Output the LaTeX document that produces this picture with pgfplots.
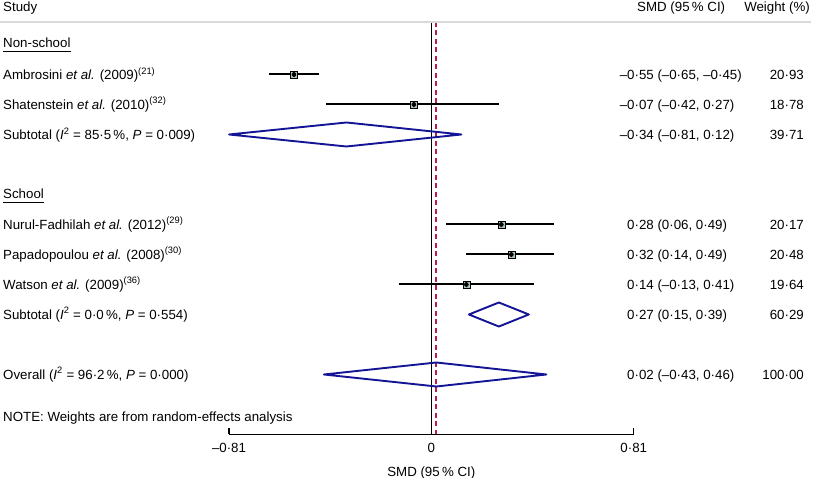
\documentclass[border=0pt]{standalone}
\usepackage{pgfplots}
\pgfplotsset{compat=1.18}
\usepackage{pgfplotstable}
\usepackage{fontspec}
\setmainfont{Liberation Sans}

\definecolor{boxgray}{RGB}{170,192,186}
\definecolor{refred}{RGB}{180,30,80}
\definecolor{dmdblue}{RGB}{20,20,150}

% y = minus the row position (pt from the top of the picture)
\pgfplotstableread{
y      est    lo     hi
-74.5  -0.55  -0.65  -0.45
-104.5 -0.07  -0.42   0.27
-224.5  0.28   0.06   0.49
-254.5  0.32   0.14   0.49
-284.5  0.14  -0.13   0.41
}\studies

\begin{document}
\begin{tikzpicture}[font=\fontsize{13.3}{16}\selectfont]
\begin{axis}[
    scale only axis,
    width=404.7pt, height=412.3pt,
    xmin=-0.81, xmax=0.81,
    ymin=-434.3, ymax=-22,
    axis x line=bottom, axis y line=none,
    axis line style={-, line width=1.4pt},
    clip=false,
    xtick={-0.81,0,0.81},
    xticklabels={–0·81,0,0·81},
    tick align=inside, major tick length=6pt,
    tick style={black, line width=1.4pt},
    xticklabel style={anchor=base, inner sep=0pt, yshift=-17.8pt},
]
    % reference lines
    \addplot[black, line width=1.4pt] coordinates {(0,-22) (0,-434.3)};
    \addplot[refred, line width=1.4pt, dash pattern=on 5pt off 3.5pt] coordinates {(0.018,-22) (0.018,-434.3)};

    % weight boxes
    \addplot[only marks, mark=square*, mark size=3.6pt, draw=none, fill=boxgray,
        mark options={draw=none, fill=boxgray}] table[x=est, y=y] \studies;
    % confidence intervals
    \addplot[only marks, mark=none,
        error bars/.cd, x dir=both, x explicit, error mark=none,
        error bar style={draw=black, line width=2pt}]
        table[x=est, y=y, x error minus expr=\thisrow{est}-\thisrow{lo}, x error plus expr=\thisrow{hi}-\thisrow{est}] \studies;
    % point estimates
    \addplot[only marks, mark=diamond*, mark size=2.4pt, black] table[x=est, y=y] \studies;

    % pooled diamonds
    \addplot[dmdblue, line width=1.9pt, line join=round] coordinates {(-0.81,-134.5) (-0.34,-122.5) (0.12,-134.5) (-0.34,-146.5)} -- cycle;
    \addplot[dmdblue, line width=1.9pt, line join=round] coordinates {(0.15,-314.5) (0.27,-302.5) (0.39,-314.5) (0.27,-326.5)} -- cycle;
    \addplot[dmdblue, line width=1.9pt, line join=round] coordinates {(-0.43,-374.5) (0.02,-362.5) (0.46,-374.5) (0.02,-386.5)} -- cycle;

    \coordinate (O) at (axis cs:-1.7268,0);
\end{axis}

\begin{scope}[shift={(O)}, x=1pt, y=-1pt, every node/.style={inner sep=0pt}]
    \draw[gray!30, line width=1.6pt] (0,22) -- (811,22);
    \node[anchor=base west] at (3,11.5) {Study};
    \node[anchor=base west] at (637,11.5) {SMD (95\,\% CI)};
    \node[anchor=base east] at (810,11.5) {Weight (\%)};

    \node[anchor=base west] (ns) at (3,48) {Non-school};
    \draw[line width=1pt] ([yshift=-3.6pt]ns.base west) -- ([yshift=-3.6pt]ns.base east);
    \node[anchor=base west] at (3,79.5) {Ambrosini \textit{et al.} (2009)\textsuperscript{(21)}};
    \node[anchor=base west] at (3,109.2) {Shatenstein \textit{et al.} (2010)\textsuperscript{(32)}};
    \node[anchor=base west] at (3,139.5) {Subtotal (\textit{I}\textsuperscript{2} = 85·5\,\%, \textit{P} = 0·009)};

    \node[anchor=base west] (sc) at (3,198.8) {School};
    \draw[line width=1pt] ([yshift=-3.6pt]sc.base west) -- ([yshift=-3.6pt]sc.base east);
    \node[anchor=base west] at (3,229.2) {Nurul-Fadhilah \textit{et al.} (2012)\textsuperscript{(29)}};
    \node[anchor=base west] at (3,259.2) {Papadopoulou \textit{et al.} (2008)\textsuperscript{(30)}};
    \node[anchor=base west] at (3,289.2) {Watson \textit{et al.} (2009)\textsuperscript{(36)}};
    \node[anchor=base west] at (3,319.2) {Subtotal (\textit{I}\textsuperscript{2} = 0·0\,\%, \textit{P} = 0·554)};
    \node[anchor=base west] at (3,379.2) {Overall (\textit{I}\textsuperscript{2} = 96·2\,\%, \textit{P} = 0·000)};
    \node[anchor=base west] at (3,421.5) {NOTE: Weights are from random-effects analysis};

    % estimates column
    \node[anchor=base west] at (627,79.5) {\llap{–}0·55 (–0·65, –0·45)};
    \node[anchor=base west] at (627,109.2) {\llap{–}0·07 (–0·42, 0·27)};
    \node[anchor=base west] at (627,139.5) {\llap{–}0·34 (–0·81, 0·12)};
    \node[anchor=base west] at (627,229.2) {0·28 (0·06, 0·49)};
    \node[anchor=base west] at (627,259.2) {0·32 (0·14, 0·49)};
    \node[anchor=base west] at (627,289.2) {0·14 (–0·13, 0·41)};
    \node[anchor=base west] at (627,319.2) {0·27 (0·15, 0·39)};
    \node[anchor=base west] at (627,379.2) {0·02 (–0·43, 0·46)};

    % weights column
    \node[anchor=base east] at (804,79.5) {20·93};
    \node[anchor=base east] at (804,109.2) {18·78};
    \node[anchor=base east] at (804,139.5) {39·71};
    \node[anchor=base east] at (804,229.2) {20·17};
    \node[anchor=base east] at (804,259.2) {20·48};
    \node[anchor=base east] at (804,289.2) {19·64};
    \node[anchor=base east] at (804,319.2) {60·29};
    \node[anchor=base east] at (804,379.2) {100·00};

    \node[anchor=base] at (431.3,476.5) {SMD (95\,\% CI)};
\end{scope}

\pgfresetboundingbox
\path (O) rectangle ++(821pt,-478pt);
\end{tikzpicture}
\end{document}
